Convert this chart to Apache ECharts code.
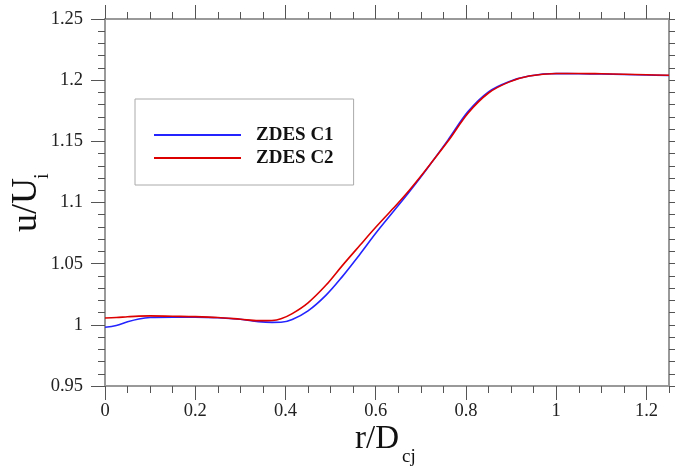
<!DOCTYPE html>
<html>
<head>
<meta charset="utf-8">
<script src="https://cdn.jsdelivr.net/npm/echarts@6/dist/echarts.min.js"></script>
<style>html,body{margin:0;padding:0;background:#fff}#c{width:675px;height:469px}</style>
</head>
<body>
<div id="c"></div>
<script>
// radial positions r/Dcj
const rValues = [0, 0.025, 0.05, 0.075, 0.1, 0.15, 0.2, 0.25, 0.3, 0.34, 0.37, 0.39, 0.415, 0.45, 0.49, 0.525, 0.565, 0.6, 0.64, 0.675, 0.71, 0.76, 0.805, 0.85, 0.895, 0.94, 1.0, 1.05, 1.1, 1.15, 1.2, 1.25];
const zdesC1 = [0.998, 0.9995, 1.0025, 1.0048, 1.0060, 1.0063, 1.0063, 1.0058, 1.0045, 1.0026, 1.0020, 1.0021, 1.0044, 1.0114, 1.0243, 1.0390, 1.0577, 1.0748, 1.0930, 1.1090, 1.1258, 1.1510, 1.1745, 1.1905, 1.1988, 1.2034, 1.2054, 1.2053, 1.2050, 1.2046, 1.2042, 1.2038];
const zdesC2 = [1.0056, 1.0060, 1.0066, 1.0071, 1.0073, 1.0070, 1.0067, 1.0060, 1.0046, 1.0034, 1.0036, 1.0050, 1.0092, 1.0180, 1.0325, 1.0480, 1.0650, 1.0797, 1.0957, 1.1103, 1.1262, 1.1500, 1.1732, 1.1895, 1.1984, 1.2034, 1.2055, 1.2055, 1.2052, 1.2048, 1.2044, 1.2040];
const seriesNames = ['ZDES C1', 'ZDES C2'];
const xMajorTicks = [0, 0.2, 0.4, 0.6, 0.8, 1.0, 1.2];
const xRange = [0, 1.25];
const yRange = [0.95, 1.25];

const toPairs = (ys) => rValues.map((r, i) => [r, ys[i]]);
const fmt = (v) => String(Math.round(v * 100) / 100);
const axisGrey = '#999';
const tickGrey = '#555';
const serif = "'Liberation Serif', 'Times New Roman', serif";

const chart = echarts.init(document.getElementById('c'));
const hiddenLabel = { show: false };
chart.setOption({
  animation: false,
  backgroundColor: '#fff',
  grid: { left: 105, right: 6, top: 19, bottom: 83, containLabel: false },
  xAxis: [
    { type: 'value', position: 'bottom', min: xRange[0], max: xRange[1], interval: 0.05,
      axisLine: { show: true, onZero: false, lineStyle: { color: axisGrey, width: 2 } },
      axisTick: { show: true, inside: false, length: 14, lineStyle: { color: tickGrey, width: 1 }, customValues: xMajorTicks },
      axisLabel: { show: true, margin: 16, color: '#222', fontFamily: serif, fontSize: 18.5, customValues: xMajorTicks, formatter: fmt },
      splitLine: { show: false } },
    { type: 'value', position: 'bottom', min: xRange[0], max: xRange[1], interval: 0.05,
      axisLine: { show: false, onZero: false },
      axisTick: { show: true, inside: false, length: 7, lineStyle: { color: tickGrey, width: 1 } },
      axisLabel: hiddenLabel, splitLine: { show: false } },
    { type: 'value', position: 'top', min: xRange[0], max: xRange[1], interval: 0.05,
      axisLine: { show: true, onZero: false, lineStyle: { color: axisGrey, width: 2 } },
      axisTick: { show: true, inside: false, length: 14, lineStyle: { color: tickGrey, width: 1 }, customValues: xMajorTicks },
      axisLabel: hiddenLabel, splitLine: { show: false } },
    { type: 'value', position: 'top', min: xRange[0], max: xRange[1], interval: 0.05,
      axisLine: { show: false, onZero: false },
      axisTick: { show: true, inside: false, length: 7, lineStyle: { color: tickGrey, width: 1 } },
      axisLabel: hiddenLabel, splitLine: { show: false } }
  ],
  yAxis: [
    { type: 'value', position: 'left', min: yRange[0], max: yRange[1], interval: 0.05,
      axisLine: { show: true, onZero: false, lineStyle: { color: axisGrey, width: 2 } },
      axisTick: { show: true, inside: false, length: 14, lineStyle: { color: tickGrey, width: 1 } },
      minorTick: { show: true, splitNumber: 5, length: 7, lineStyle: { color: tickGrey, width: 1 } },
      axisLabel: { show: true, margin: 22, color: '#222', fontFamily: serif, fontSize: 18.5, formatter: fmt },
      splitLine: { show: false } },
    { type: 'value', position: 'right', min: yRange[0], max: yRange[1], interval: 0.05,
      axisLine: { show: true, onZero: false, lineStyle: { color: axisGrey, width: 2 } },
      axisTick: { show: true, inside: false, length: 14, lineStyle: { color: tickGrey, width: 1 } },
      minorTick: { show: true, splitNumber: 5, length: 6, lineStyle: { color: tickGrey, width: 1 } },
      axisLabel: hiddenLabel, splitLine: { show: false } }
  ],
  legend: {
    orient: 'vertical', left: 135, top: 99,
    data: seriesNames,
    icon: 'rect', itemWidth: 87, itemHeight: 2, itemGap: 3,
    padding: [26, 20, 17, 19],
    borderColor: '#aaa', borderWidth: 1, backgroundColor: '#fff',
    textStyle: { fontFamily: serif, fontWeight: 'bold', fontSize: 19, color: '#111', lineHeight: 20, padding: [0, 0, 0, 10] }
  },
  series: [
    { name: seriesNames[0], type: 'line', data: toPairs(zdesC1), smooth: 0.35, showSymbol: false, symbol: 'none',
      color: '#2424ff', lineStyle: { color: '#2424ff', width: 1.6 } },
    { name: seriesNames[1], type: 'line', data: toPairs(zdesC2), smooth: 0.35, showSymbol: false, symbol: 'none',
      color: '#dd0000', lineStyle: { color: '#dd0000', width: 1.6 } }
  ],
  graphic: [
    { type: 'text', left: 355, top: 423, style: { text: 'r/D', font: '33px ' + serif, fill: '#111' } },
    { type: 'text', left: 402, top: 448, style: { text: 'cj', font: '19px ' + serif, fill: '#111' } },
    { type: 'group', x: 27, y: 232, rotation: Math.PI / 2, children: [
      { type: 'text', x: 0, y: 0, style: { text: 'u/U', font: '36px ' + serif, fill: '#111', verticalAlign: 'middle', align: 'left' } },
      { type: 'text', x: 53, y: 16, style: { text: 'i', font: '20px ' + serif, fill: '#111', verticalAlign: 'middle', align: 'left' } }
    ] }
  ]
});
</script>
</body>
</html>
